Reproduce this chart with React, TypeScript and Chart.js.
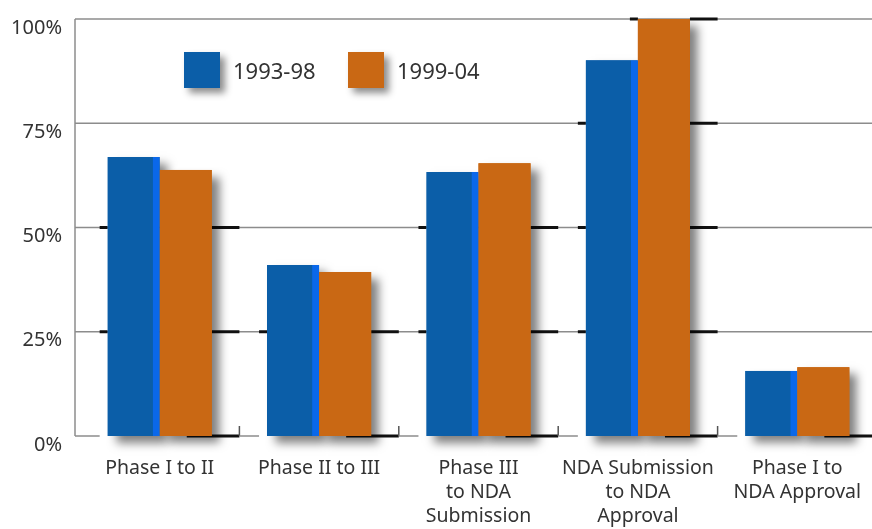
import React, { useEffect, useRef } from "react";
import { Chart, registerables } from "chart.js";

Chart.register(...registerables);

const categories: string[][] = [
  ["Phase I to II"],
  ["Phase II to III"],
  ["Phase III", "to NDA", "Submission"],
  ["NDA Submission", "to NDA", "Approval"],
  ["Phase I to", "NDA Approval"],
];
const series1993 = [66.9, 41.0, 63.3, 90.1, 15.6];
const series1999 = [63.8, 39.3, 65.4, 100, 16.5];
const seriesLabels = ["1993-98", "1999-04"];
const yTicks = [0, 25, 50, 75, 100];

const BLUE = "#0b5ea8";
const BLUE_EDGE = "#0a68ea";
const ORANGE = "#c96814";
const GRID = "#8c8c8c";
const TEXT = "#333333";
const FONT = "'Noto Sans', Lato, sans-serif";

const decor = {
  id: "decor",
  beforeDatasetsDraw(chart: any) {
    const ctx = chart.ctx as CanvasRenderingContext2D;
    const { left } = chart.chartArea;
    const x = chart.scales.x;
    const y = chart.scales.y;
    const m0 = chart.getDatasetMeta(0);
    const m1 = chart.getDatasetMeta(1);
    const n = categories.length;
    const catW = x.width / n;
    const axisX = left - 5;
    const W = chart.width;
    ctx.save();
    ctx.lineCap = "butt";
    ctx.strokeStyle = GRID;
    ctx.lineWidth = 1.5;
    yTicks.forEach((v) => {
      if (v <= 0) return;
      const py = y.getPixelForValue(v);
      ctx.beginPath();
      ctx.moveTo(axisX, py);
      ctx.lineTo(W, py);
      ctx.stroke();
    });
    const y0 = y.getPixelForValue(0);
    ctx.beginPath();
    ctx.moveTo(axisX, y.getPixelForValue(100));
    ctx.lineTo(axisX, y0);
    ctx.stroke();

    for (let i = 0; i < n; i++) {
      const b = m0.data[i];
      const o = m1.data[i];
      const blueL = b.x - b.width / 2;
      const blueR = b.x + b.width / 2;
      const orL = o.x - o.width / 2;
      const orR = o.x + o.width / 2;
      const cx = x.getPixelForValue(i);
      const bndL = i === 0 ? axisX : cx - catW / 2;
      const bndR = cx + catW / 2;
      ctx.strokeStyle = GRID;
      ctx.lineWidth = 1.5;
      ctx.beginPath();
      ctx.moveTo(bndL, y0);
      ctx.lineTo(blueL - 8, y0);
      ctx.stroke();
      ctx.strokeStyle = "#111";
      ctx.lineWidth = 3;
      const vals = [series1993[i], series1999[i]];
      yTicks.forEach((v) => {
        const py = y.getPixelForValue(v);
        if (v === 0) {
          ctx.beginPath();
          ctx.moveTo(orR - 25, py);
          ctx.lineTo(bndR, py);
          ctx.stroke();
          return;
        }
        const leftBar = vals[0] >= v - 0.5 ? blueL : vals[1] >= v - 0.5 ? orL : null;
        const rightBar = vals[1] >= v - 0.5 ? orR : vals[0] >= v - 0.5 ? blueR : null;
        if (leftBar !== null) {
          ctx.beginPath();
          ctx.moveTo(leftBar - 8, py);
          ctx.lineTo(leftBar, py);
          ctx.stroke();
        }
        if (rightBar !== null) {
          ctx.beginPath();
          ctx.moveTo(rightBar, py);
          ctx.lineTo(bndR, py);
          ctx.stroke();
        }
      });
      if (i < n - 1) {
        ctx.strokeStyle = "#555";
        ctx.lineWidth = 1.5;
        ctx.beginPath();
        ctx.moveTo(bndR, y0 - 10);
        ctx.lineTo(bndR, y0);
        ctx.stroke();
      }
    }
    [m0, m1].forEach((meta: any, di: number) => {
      meta.data.forEach((el: any) => {
        ctx.save();
        ctx.shadowColor = "rgba(0,0,0,0.5)";
        ctx.shadowBlur = 9;
        ctx.shadowOffsetX = 8;
        ctx.shadowOffsetY = 7;
        ctx.fillStyle = di === 0 ? BLUE : ORANGE;
        ctx.fillRect(el.x - el.width / 2, el.y, el.width, el.base - el.y);
        ctx.restore();
      });
    });
    ctx.restore();
  },
  afterDraw(chart: any) {
    const ctx = chart.ctx as CanvasRenderingContext2D;
    const { left, top } = chart.chartArea;
    const colors = [BLUE, ORANGE];
    const size = 36;
    const xs = [left + 104, left + 268];
    const sy = top + 33;
    ctx.save();
    seriesLabels.forEach((lab, i) => {
      ctx.save();
      ctx.shadowColor = "rgba(0,0,0,0.45)";
      ctx.shadowBlur = 7;
      ctx.shadowOffsetX = 5;
      ctx.shadowOffsetY = 5;
      ctx.fillStyle = colors[i];
      ctx.fillRect(xs[i], sy, size, size);
      ctx.restore();
      ctx.fillStyle = TEXT;
      ctx.font = `22px ${FONT}`;
      ctx.textAlign = "left";
      ctx.textBaseline = "middle";
      ctx.fillText(lab, xs[i] + size + 13, sy + size / 2 + 3);
    });
    ctx.restore();
  },
};

export default function App() {
  const ref = useRef<HTMLCanvasElement | null>(null);
  useEffect(() => {
    if (!ref.current) return;
    const chart = new Chart(ref.current, {
      type: "bar",
      data: {
        labels: categories,
        datasets: [
          {
            label: seriesLabels[0],
            data: series1993,
            backgroundColor: BLUE,
            borderColor: BLUE_EDGE,
            borderWidth: { top: 0, right: 7, bottom: 0, left: 0 },
            borderSkipped: false,
          },
          {
            label: seriesLabels[1],
            data: series1999,
            backgroundColor: ORANGE,
            borderWidth: 0,
          },
        ],
      },
      options: {
        animation: false,
        responsive: false,
        devicePixelRatio: 1,
        layout: { padding: { top: 19, left: 0, right: 0, bottom: 0 } },
        plugins: { legend: { display: false }, tooltip: { enabled: false } },
        datasets: { bar: { categoryPercentage: 0.653, barPercentage: 1 } },
        scales: {
          x: {
            grid: { display: false, drawTicks: false },
            border: { display: false },
            ticks: {
              color: TEXT,
              font: { family: FONT, size: 19.5, lineHeight: 1.23 },
              padding: 20,
              maxRotation: 0,
              autoSkip: false,
            },
            afterFit: (s: any) => {
              s.height = 93;
              s.paddingLeft = 0;
              s.paddingRight = 0;
            },
          },
          y: {
            min: 0,
            max: 100,
            grid: { display: false, drawTicks: false },
            border: { display: false },
            ticks: {
              stepSize: 25,
              color: TEXT,
              font: { family: FONT, size: 20 },
              padding: 18,
              labelOffset: 9,
              callback: (v: any) => v + "%",
            },
            afterFit: (s: any) => {
              s.width = 80;
              s.paddingTop = 0;
              s.paddingBottom = 0;
            },
          },
        },
      },
      plugins: [decor],
    });
    return () => chart.destroy();
  }, []);
  return (
    <div
      style={{
        position: "absolute",
        left: 0,
        top: 0,
        width: 872,
        height: 529,
        overflow: "hidden",
        background: "#fff",
      }}
    >
      <canvas ref={ref} width={877} height={529} style={{ display: "block" }} />
    </div>
  );
}
